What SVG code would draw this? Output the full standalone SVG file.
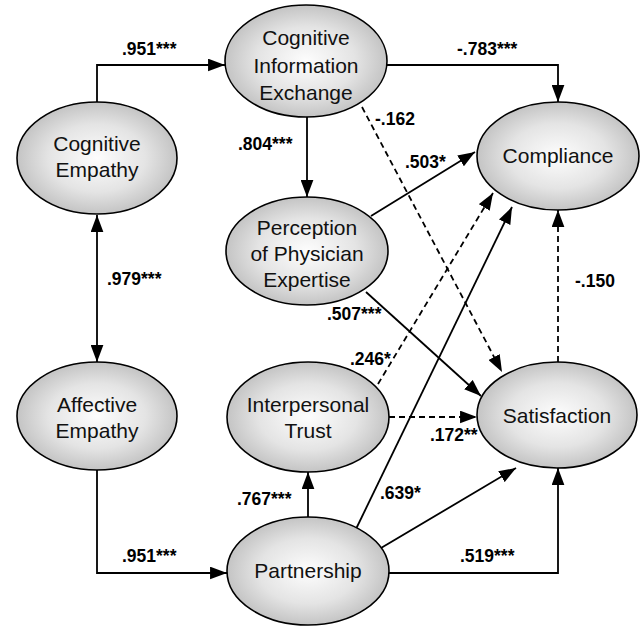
<svg xmlns="http://www.w3.org/2000/svg" width="644" height="627" viewBox="0 0 644 627">
<style>
.node ellipse{fill:url(#g);stroke:#000;stroke-width:1.6}
.node text{font-family:"Liberation Sans",Arial,sans-serif;font-size:21px;fill:#111;text-anchor:middle}
.c{fill:none;stroke:#000;stroke-width:1.8;marker-end:url(#a)}
.d{stroke-dasharray:6,4}
.lbl{font-family:"Liberation Sans",Arial,sans-serif;font-size:17.5px;font-weight:bold;fill:#000}
</style>
<defs>
<radialGradient id="g" cx="50%" cy="50%" r="55%">
<stop offset="0" stop-color="#fdfdfd"/>
<stop offset="0.55" stop-color="#e4e4e4"/>
<stop offset="1" stop-color="#bcbcbc"/>
</radialGradient>
<marker id="a" markerUnits="userSpaceOnUse" markerWidth="18" markerHeight="13" refX="16" refY="6" orient="auto-start-reverse" viewBox="0 0 17 12">
<path d="M0,0 L16,6 L0,12 z" fill="#000"/>
</marker>
</defs>
<g id="connectors">
<path class="c" d="M97,102 V65 H225"/>
<path class="c" d="M387,65 H558 V102"/>
<path class="c" d="M307,117 V197"/>
<path class="c d" d="M362,107 L502,372"/>
<path class="c" d="M371,216 L475,152"/>
<path class="c" d="M366,292 L481,396"/>
<path class="c d" d="M378,384 L493,193"/>
<path class="c d" d="M389,417 H477"/>
<path class="c" d="M308,517 V472"/>
<path class="c" d="M356,529 L512,207"/>
<path class="c" d="M381,548 L516,468"/>
<path class="c" d="M389,573 H558 V468"/>
<path class="c d" d="M558,362 V210"/>
<path class="c" d="M97,215 V362" marker-start="url(#a)"/>
<path class="c" d="M97,470 V573 H227"/>
</g>
<g id="labels">
<text class="lbl" x="122" y="55">.951***</text>
<text class="lbl" x="457" y="55">-.783***</text>
<text class="lbl" x="238" y="150">.804***</text>
<text class="lbl" x="375" y="125">-.162</text>
<text class="lbl" x="405" y="168">.503*</text>
<text class="lbl" x="327" y="320">.507***</text>
<text class="lbl" x="350" y="365">.246*</text>
<text class="lbl" x="430" y="441">.172**</text>
<text class="lbl" x="237" y="505">.767***</text>
<text class="lbl" x="380" y="499">.639*</text>
<text class="lbl" x="460" y="562">.519***</text>
<text class="lbl" x="575" y="287">-.150</text>
<text class="lbl" x="107" y="285">.979***</text>
<text class="lbl" x="122" y="562">.951***</text>
</g>
<g id="cie" class="node"><ellipse cx="306" cy="61" rx="81" ry="56"/><text x="306" y="45">Cognitive</text><text x="306" y="73">Information</text><text x="306" y="100">Exchange</text></g>
<g id="cognitive-empathy" class="node"><ellipse cx="97" cy="158" rx="80" ry="56"/><text x="97" y="151">Cognitive</text><text x="97" y="177">Empathy</text></g>
<g id="affective-empathy" class="node"><ellipse cx="97" cy="416" rx="80" ry="54"/><text x="97" y="412">Affective</text><text x="97" y="438">Empathy</text></g>
<g id="ppe" class="node"><ellipse cx="307" cy="251" rx="81" ry="54"/><text x="307" y="235">Perception</text><text x="307" y="261">of Physician</text><text x="307" y="287">Expertise</text></g>
<g id="trust" class="node"><ellipse cx="308" cy="417" rx="81" ry="55"/><text x="308" y="412">Interpersonal</text><text x="308" y="438">Trust</text></g>
<g id="partnership" class="node"><ellipse cx="308" cy="571" rx="81" ry="54"/><text x="308" y="578">Partnership</text></g>
<g id="compliance" class="node"><ellipse cx="558" cy="156" rx="81" ry="54"/><text x="558" y="163">Compliance</text></g>
<g id="satisfaction" class="node"><ellipse cx="557" cy="415" rx="80" ry="53"/><text x="557" y="423">Satisfaction</text></g>
</svg>
